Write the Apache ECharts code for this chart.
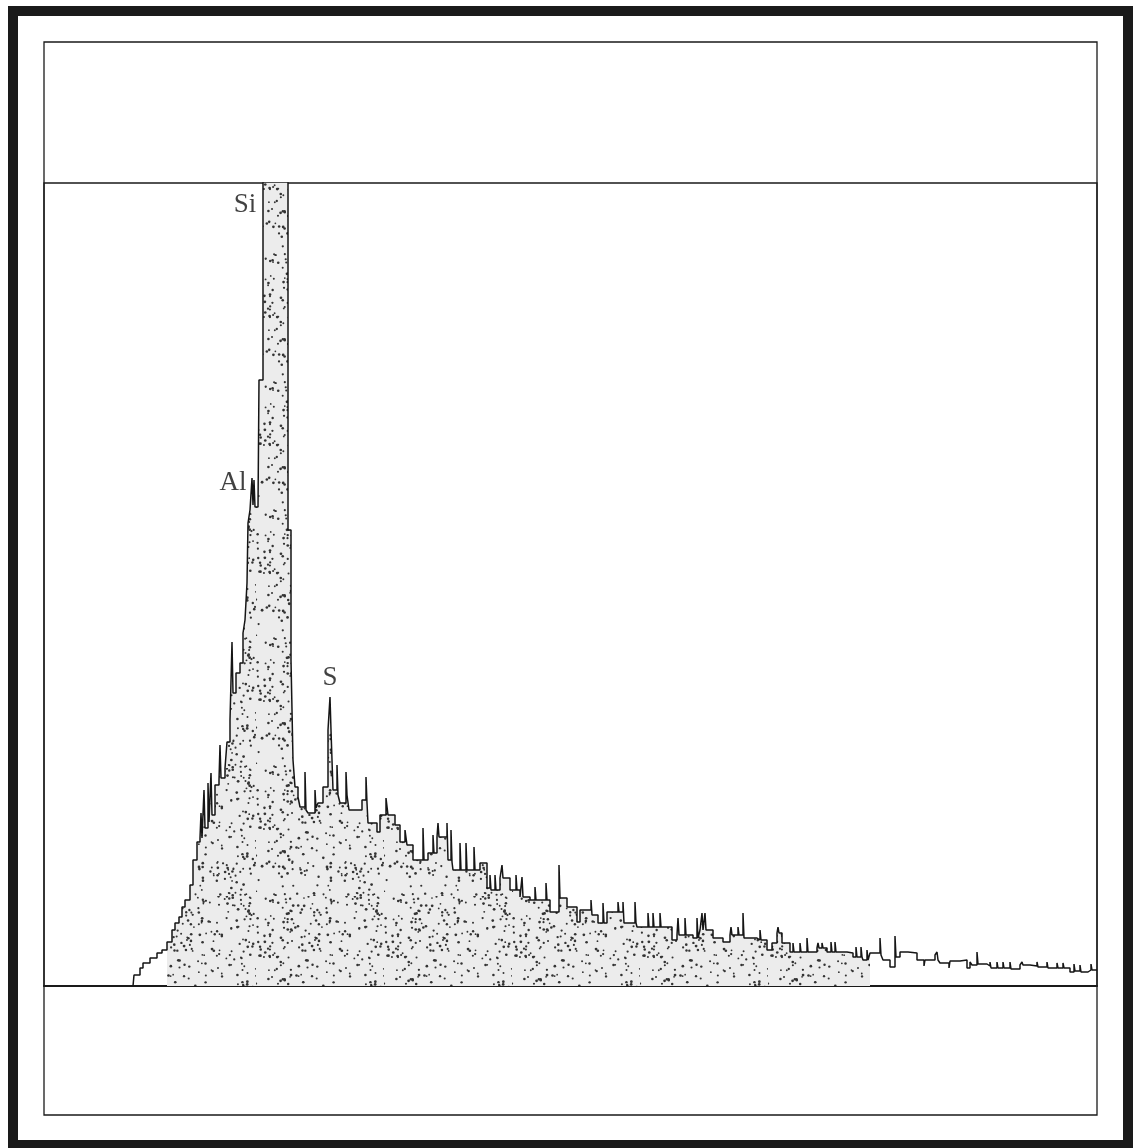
<!DOCTYPE html>
<html>
<head>
<meta charset="utf-8">
<script src="https://cdn.jsdelivr.net/npm/echarts@6/dist/echarts.min.js"></script>
<style>
  html, body { margin: 0; padding: 0; background: #fff; }
  #chart { width: 1133px; height: 1148px; }
</style>
</head>
<body>
<div id="chart"></div>
<script>
// EDX spectrum: channel number vs. counts (step histogram)
const channels = [
  89, 90, 96, 99, 106, 113, 118, 123, 128, 131, 135, 138, 141, 146, 149, 153,
  156, 157, 158, 160, 161, 164, 165, 167, 168, 171, 175, 176, 177, 181, 183, 186,
  188, 189, 192, 196, 199, 201, 203, 204, 206, 208, 209, 210, 211, 214, 215, 219,
  244, 247, 249, 251, 254, 256, 261, 262, 264, 271, 272, 274, 279, 284, 286, 287,
  289, 293, 294, 296, 302, 303, 305, 318, 322, 323, 324, 333, 336, 342, 344,
  351, 356, 361, 363, 369, 379, 380, 384, 389, 390, 393, 394, 395, 403, 404, 407,
  408, 409, 416, 417, 422, 423, 430, 431, 436, 443, 446, 447, 451, 452, 456, 458,
  459, 466, 472, 473, 476, 478, 479, 486, 491, 492, 502, 503, 506, 515, 516, 523,
  533, 536, 547, 548, 554, 559, 560, 563, 574, 575, 579, 580, 591, 592, 593, 604,
  605, 609, 610, 616, 617, 628, 633, 634, 635, 641, 642, 649, 653, 654, 656, 658,
  659, 661, 662, 669, 679, 686, 687, 688, 694, 695, 699, 700, 713, 716, 717, 723,
  728, 733, 734, 735, 738, 746, 749, 750, 756, 757, 763, 764, 773, 774, 775, 778,
  779, 783, 787, 788, 791, 792, 803, 809, 812, 813, 817, 818, 819, 823, 824, 826,
  836, 837, 839, 846, 851, 852, 856, 864, 873, 880, 881, 891, 893, 894, 896, 905,
  906, 916, 923, 926, 928, 933, 934, 943, 946, 947, 953, 954, 959, 960, 966, 967,
  976, 978, 979, 986, 993, 994, 1003, 1004, 1013, 1014, 1019, 1020, 1026, 1030,
  1031, 1036, 1037, 1044, 1047, 1048, 1053
];
const counts = [
  0, 11, 18, 23, 28, 33, 36, 44, 56, 63, 69, 79, 86, 101, 126, 144,
  148, 173, 148, 196, 158, 203, 164, 213, 171, 201, 206, 241, 208, 218, 244, 266,
  344, 293, 313, 323, 353, 366, 403, 463, 476, 508, 481, 506, 479, 481, 606, 1200,
  456, 326, 226, 199, 189, 179, 214, 176, 173, 196, 178, 183, 199, 256, 289, 256,
  196, 221, 191, 183, 214, 191, 176, 186, 209, 183, 163, 154, 171, 188, 171,
  161, 144, 156, 141, 126, 158, 126, 133, 151, 133, 149, 163, 149, 163, 126, 156,
  124, 116, 143, 116, 143, 116, 139, 116, 123, 98, 111, 96, 111, 96, 108, 121,
  108, 96, 111, 96, 89, 109, 89, 86, 99, 86, 103, 86, 74, 121, 88, 79,
  64, 76, 86, 71, 63, 83, 63, 74, 84, 74, 84, 63, 84, 63, 59, 73,
  59, 73, 59, 73, 59, 46, 51, 68, 51, 68, 51, 48, 68, 48, 56, 73,
  56, 73, 56, 48, 44, 51, 59, 51, 59, 51, 73, 48, 46, 56, 46, 36,
  43, 53, 59, 53, 43, 34, 43, 34, 43, 34, 48, 34, 38, 43, 38, 43,
  38, 34, 44, 34, 44, 34, 33, 29, 39, 29, 39, 29, 26, 36, 26, 33,
  48, 31, 26, 19, 50, 29, 34, 33, 26, 20, 26, 31, 34, 26, 23, 18,
  25, 26, 18, 24, 21, 34, 22, 20, 24, 18, 24, 18, 24, 18, 24, 17,
  21, 24, 21, 20, 24, 19, 24, 18, 23, 18, 23, 18, 14, 22, 15, 21,
  14, 16, 22, 16, 16
];

// stippled region of the printed spectrum
const shadeFrom = 123;
const shadeTo = 826;

const peakNames = ['Si', 'Al', 'S'];
const peakChannels = [201, 189, 286];
const peakCounts = [781, 503, 308];

const spectrum = channels.map((c, i) => [c, counts[i]]);
const shaded = spectrum.filter(p => p[0] >= shadeFrom && p[0] <= shadeTo);

function makeStipple() {
  const size = 128;
  const cv = document.createElement('canvas');
  cv.width = size;
  cv.height = size;
  const ctx = cv.getContext('2d');
  ctx.fillStyle = '#ececec';
  ctx.fillRect(0, 0, size, size);
  ctx.fillStyle = '#333';
  // fixed-seed hash so the dots look scattered but never change
  let a = 0x9e3779b9;
  const next = () => {
    a = (a + 0x6d2b79f5) | 0;
    let t = Math.imul(a ^ (a >>> 15), 1 | a);
    t = (t + Math.imul(t ^ (t >>> 7), 61 | t)) ^ t;
    return ((t ^ (t >>> 14)) >>> 0) / 4294967296;
  };
  for (let i = 0; i < 330; i++) {
    const x = next() * size;
    const y = next() * size;
    ctx.beginPath();
    ctx.arc(x, y, 0.85 + next() * 0.55, 0, Math.PI * 2);
    ctx.fill();
  }
  return cv;
}

const chart = echarts.init(document.getElementById('chart'), null, { renderer: 'canvas' });

const option = {
  animation: false,
  backgroundColor: '#fff',
  grid: {
    left: 44,
    right: 36,
    top: 183,
    bottom: 162,
    show: true,
    borderColor: '#1a1a1a',
    borderWidth: 1.3
  },
  xAxis: {
    type: 'value',
    min: 0,
    max: 1053,
    axisLine: { show: true, onZero: false, lineStyle: { color: '#1a1a1a', width: 2 } },
    axisTick: { show: false },
    axisLabel: { show: false },
    splitLine: { show: false }
  },
  yAxis: {
    type: 'value',
    min: 0,
    max: 803,
    axisLine: { show: false },
    axisTick: { show: false },
    axisLabel: { show: false },
    splitLine: { show: false }
  },
  graphic: [
    {
      type: 'rect',
      shape: { x: 13, y: 11, width: 1115, height: 1134 },
      style: { fill: null, stroke: '#1a1a1a', lineWidth: 10 },
      silent: true
    },
    {
      type: 'rect',
      shape: { x: 44, y: 42, width: 1053, height: 1073 },
      style: { fill: null, stroke: '#1a1a1a', lineWidth: 1.3 },
      silent: true
    }
  ],
  series: [
    {
      name: 'shade',
      type: 'line',
      step: 'end',
      data: shaded,
      symbol: 'none',
      lineStyle: { width: 0, opacity: 0 },
      areaStyle: { color: { image: makeStipple(), repeat: 'repeat' }, opacity: 1 },
      silent: true
    },
    {
      name: 'spectrum',
      type: 'line',
      step: 'end',
      data: spectrum,
      symbol: 'none',
      lineStyle: { color: '#151515', width: 1.5 },
      silent: true
    },
    {
      name: 'peaks',
      type: 'scatter',
      data: peakNames.map((n, i) => [peakChannels[i], peakCounts[i], n]),
      symbolSize: 1,
      itemStyle: { color: 'rgba(0,0,0,0)' },
      label: {
        show: true,
        position: 'inside',
        formatter: p => p.data[2],
        fontFamily: 'Liberation Serif',
        fontSize: 27,
        color: '#111'
      },
      silent: true
    }
  ]
};

chart.setOption(option);
</script>
</body>
</html>
